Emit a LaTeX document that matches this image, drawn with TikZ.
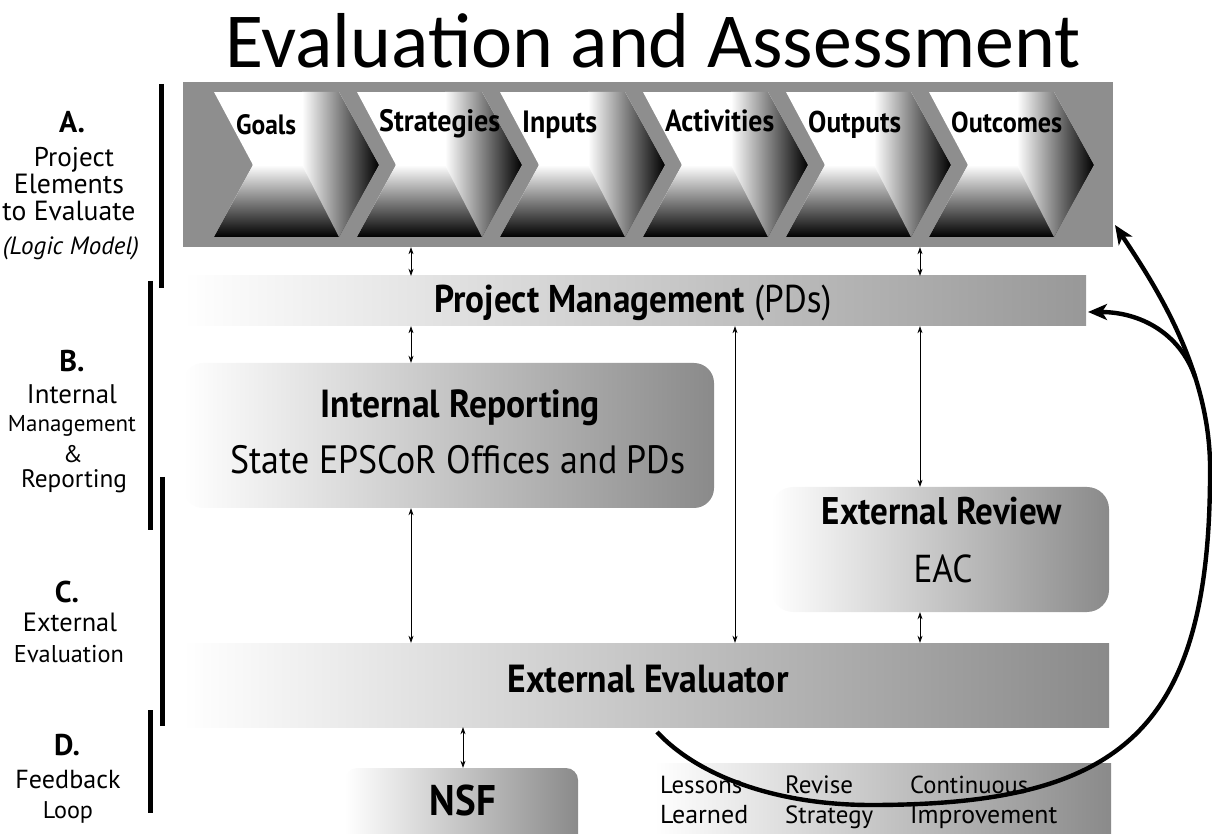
\documentclass[tikz,border=0pt]{standalone}
\usepackage{fontspec}
\setmainfont{PT Sans}
\newfontfamily\titlefont{Carlito}
\usetikzlibrary{arrows.meta}
\newcommand{\fw}[3][1.1]{\scalebox{1}[#1]{\resizebox{#2}{!}{#3}}}
\definecolor{bandgray}{RGB}{142,142,142}
\definecolor{barend}{RGB}{138,138,138}
\definecolor{pmend}{RGB}{152,152,152}
\begin{document}
\begin{tikzpicture}[x=1pt,y=1pt,
  shadebox/.style={draw=none, inner sep=0pt, left color=white, right color=barend},
  lbl/.style={anchor=base, inner sep=0pt},
  lblw/.style={anchor=base west, inner sep=0pt},
  dbl/.style={{Stealth[length=7pt,width=5pt]}-{Stealth[length=7pt,width=5pt]}, line width=0.7pt},
  loopline/.style={line width=4.4pt, -{Stealth[length=19pt,width=16pt,inset=5pt]}},
  sidebar/.style={line width=5.5pt},
]
\useasboundingbox (0,0) rectangle (1212,833);

% title
\node[lblw] (title) at (225,765) {\titlefont\resizebox{855pt}{!}{Evaluation and Assessment}};

% band A with chevrons
\node[draw=none, fill=bandgray, inner sep=0pt, minimum width=930pt, minimum height=165pt] (band) at (648,668.5) {};
\foreach \L/\nm/\txt/\w/\b in {214/goals/Goals/60/698, 357/strat/Strategies/121/701, 500/inputs/Inputs/75/700, 643/activ/Activities/109/701, 786/outp/Outputs/93/700, 929/outc/Outcomes/111/700} {
  \begin{scope}
    \clip (\L,741) -- ++(125,0) -- ++(40,-73) -- ++(-40,-72) -- ++(-125,0) -- ++(39,72) -- cycle;
    \fill[white] (\L,596) rectangle ++(170,145);
    \shade[top color=white, bottom color=black] (\L,596) rectangle ++(170,72);
    \shade[left color=white, right color=black] (\L+88,741) -- (\L+125,741) -- (\L+165,668) -- (\L+125,596) -- (\L+88,668) -- cycle;
  \end{scope}
  \node[lblw] (\nm) at (\L+22,\b) {\fw{\w pt}{\bfseries \txt}};
}

% project management
\node[shadebox, right color=pmend, minimum width=903pt, minimum height=50pt] (pm) at (634.5,532) {};
\node[lbl] (pmtext) at (633,520) {\fw{397pt}{\textbf{Project Management} (PDs)}};

% internal reporting
\node[shadebox, rounded corners=20pt, minimum width=531pt, minimum height=145pt] (ir) at (448.5,397.5) {};
\node[lbl] (irt1) at (460,415) {\fw{279pt}{\bfseries Internal Reporting}};
\node[lbl] (irt2) at (458,359) {\fw{455pt}{State EPSCoR Offices and PDs}};

% external review
\node[shadebox, rounded corners=22pt, minimum width=338pt, minimum height=125pt] (er) at (940,283.5) {};
\node[lbl] (ert1) at (942,308) {\fw{240pt}{\bfseries External Review}};
\node[lbl] (ert2) at (943,251) {\fw{59pt}{EAC}};

% external evaluator
\node[shadebox, minimum width=926pt, minimum height=84pt] (ee) at (646,148) {};
\node[lbl] (eet) at (648,141) {\fw{281pt}{\bfseries External Evaluator}};

% NSF
\node[shadebox, rounded corners=12pt, minimum width=233pt, minimum height=105pt] (nsf) at (461.5,12.5) {};
\node[lbl] (nsft) at (463,18) {\fw{66pt}{\bfseries NSF}};

% lessons
\node[shadebox, minimum width=456pt, minimum height=90pt] (ll) at (883,25) {};
\node[lblw] (ll1) at (660,40) {\fw[1]{82pt}{Lessons}};
\node[lblw] (ll2) at (660,10) {\fw[1]{88pt}{Learned}};
\node[lblw] (ll3) at (785,40) {\fw[1]{68pt}{Revise}};
\node[lblw] (ll4) at (785,10) {\fw[1]{88pt}{Strategy}};
\node[lblw] (ll5) at (910,40) {\fw[1]{118pt}{Continuous}};
\node[lblw] (ll6) at (910,10) {\fw[1]{147pt}{Improvement}};

% left labels
\node[lbl] (la) at (72,700) {\fontsize{30}{30}\selectfont\bfseries A.};
\node[lbl] (la1) at (74,666) {\fw[1]{80pt}{Project}};
\node[lbl] (la2) at (69,639) {\fw[1]{110pt}{Elements}};
\node[lbl] (la3) at (69,612) {\fw[1]{133pt}{to Evaluate}};
\node[lbl] (la4) at (71,578) {\fw[1]{136pt}{\itshape (Logic Model)}};
\node[lbl] (lb) at (72,461) {\fontsize{30}{30}\selectfont\bfseries B.};
\node[lbl] (lb1) at (72,429) {\fw[1]{90pt}{Internal}};
\node[lbl] (lb2) at (72,401) {\fw[1]{128pt}{Management}};
\node[lbl] (lb3) at (73,370) {\fontsize{24}{24}\selectfont \&};
\node[lbl] (lb4) at (74,345) {\fw[1]{106pt}{Reporting}};
\node[lbl] (lc) at (67,231) {\fontsize{30}{30}\selectfont\bfseries C.};
\node[lbl] (lc1) at (70,201) {\fw[1]{94pt}{External}};
\node[lbl] (lc2) at (69,171) {\fw[1]{110pt}{Evaluation}};
\node[lbl] (ld) at (67,78) {\fontsize{30}{30}\selectfont\bfseries D.};
\node[lbl] (ld1) at (68,45) {\fw[1]{105pt}{Feedback}};
\node[lbl] (ld2) at (68,15) {\fw[1]{50pt}{Loop}};

% side bars
\draw[sidebar] (161.5,749) -- (161.5,545);
\draw[sidebar] (150.5,552) -- (150.5,303);
\draw[sidebar] (162.5,356) -- (162.5,107);
\draw[sidebar] (150.5,123) -- (150.5,20);

% thin double arrows
\coordinate (xa) at (411,0);
\coordinate (xb) at (735,0);
\coordinate (xc) at (920,0);
\coordinate (xd) at (463,0);
\draw[dbl] (band.south -| xa) -- (pm.north -| xa);
\draw[dbl] (band.south -| xc) -- (pm.north -| xc);
\draw[dbl] (pm.south -| xa) -- (ir.north -| xa);
\draw[dbl] (pm.south -| xb) -- (ee.north -| xb);
\draw[dbl] (pm.south -| xc) -- (er.north -| xc);
\draw[dbl] (ir.south -| xa) -- (ee.north -| xa);
\draw[dbl] (er.south -| xc) -- (ee.north -| xc);
\draw[dbl] (ee.south -| xd) -- (nsf.north -| xd);

% feedback loop
\coordinate (cstart) at (657,101);
\coordinate (cbot) at (871,28);
\coordinate (crm) at (1210,370);
\coordinate (ctipA) at (1115,608);
\coordinate (ctipPM) at (1088,521);
\draw[loopline] (cstart) .. controls (700,55) and (780,28) .. (cbot) .. controls (1120,28) and (1212,100) .. (crm) .. controls (1208,470) and (1150,555) .. (ctipA) coordinate[pos=0.3] (csplit);
\draw[loopline] (csplit) .. controls (1180,500) and (1140,521) .. (ctipPM);
\end{tikzpicture}
\end{document}
